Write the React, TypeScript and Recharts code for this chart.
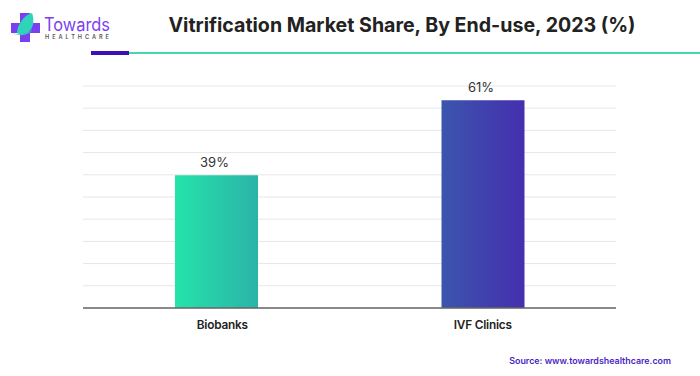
import React from "react";
import { BarChart, Bar, XAxis, YAxis, CartesianGrid, LabelList, Cell, ReferenceLine } from "recharts";

const categories = ["Biobanks", "IVF Clinics"];
const shares = [39, 61];
const gridTicks = [0, 6.52, 13.04, 19.56, 26.08, 32.6, 39.12, 45.64, 52.16, 58.68, 65.2];
const data = categories.map((name, i) => ({ name, share: shares[i] }));
const fills = ["url(#barA)", "url(#barB)"];
const font = "Inter, sans-serif";

function Logo() {
  return (
    <svg width={120} height={50} style={{ position: "absolute", left: 0, top: 0 }}>
      <path d="M20 13h10v10h10v10H30v9H20v-9H11V23h9z" fill="#7b3ff2" />
      <path d="M32 13c3 8 1 17-5 20-5 2-9 1-10 0 0-8 7-18 15-20z" fill="#2fd3b8" />
      <path d="M12 33c6 2 14 2 20-3-3 5-12 7-20 3z" fill="#2fd3b8" />
      <text x={44} y={30.5} fontFamily={font} fontSize={18} fontWeight={400} textLength={66} lengthAdjust="spacingAndGlyphs" fill="#7b3ff2">Towards</text>
      <text x={45} y={39} fontFamily={font} fontSize={5.6} fontWeight={600} textLength={64} fill="#555">HEALTHCARE</text>
    </svg>
  );
}

function Tick(props: any) {
  const { x, y, payload } = props;
  const shift = payload.value === "Biobanks" ? 6 : 0;
  return (
    <text x={x + shift} y={y + 13} textAnchor="middle" fontFamily={font} fontSize={11.8} fontWeight={600} letterSpacing={-0.2} fill="#222">
      {payload.value}
    </text>
  );
}

export default function App() {
  return (
    <div style={{ position: "absolute", left: 0, top: 0, width: 700, height: 376, background: "#fff", overflow: "hidden" }}>
      <Logo />
      <div style={{ position: "absolute", left: 127, width: 550, top: 11, textAlign: "center", fontFamily: font, fontWeight: 700, fontSize: 19.6, lineHeight: "28px", color: "#222", whiteSpace: "nowrap" }}>
        Vitrification Market Share, By End-use, 2023 (%)
      </div>
      <div style={{ position: "absolute", left: 129, top: 52, width: 571, height: 2, background: "#45d6b0" }} />
      <div style={{ position: "absolute", left: 91, top: 51, width: 38, height: 4, background: "#3d12b5" }} />
      <BarChart
        width={700}
        height={376}
        data={data}
        margin={{ top: 86, right: 84, bottom: 38, left: 83 }}
        style={{ position: "absolute", left: 0, top: 0 }}
      >
        <defs>
          <linearGradient id="barA" x1="0" y1="0" x2="1" y2="0">
            <stop offset="0%" stopColor="#25e3ab" />
            <stop offset="100%" stopColor="#2bb3a8" />
          </linearGradient>
          <linearGradient id="barB" x1="0" y1="0" x2="1" y2="0">
            <stop offset="0%" stopColor="#3b55ad" />
            <stop offset="100%" stopColor="#452fae" />
          </linearGradient>
        </defs>
        <CartesianGrid vertical={false} stroke="#e6e6e6" strokeWidth={1} />
        <YAxis hide type="number" domain={[0, 65.2]} ticks={gridTicks} interval={0} allowDataOverflow />
        <XAxis dataKey="name" tickLine={false} axisLine={false} tick={<Tick />} />
        <Bar dataKey="share" barSize={83} isAnimationActive={false}>
          {data.map((d, i) => (
            <Cell key={d.name} fill={fills[i]} />
          ))}
          <LabelList
            dataKey="share"
            position="top"
            offset={8}
            dx={-2}
            formatter={(v: number) => `${v}%`}
            style={{ fontFamily: font, fontSize: 13, fill: "#333" }}
          />
        </Bar>
        <ReferenceLine y={0} stroke="#666" strokeWidth={1.3} />
      </BarChart>
      <div style={{ position: "absolute", right: 29, top: 355, fontFamily: font, fontWeight: 600, fontSize: 8.9, color: "#4a1fc4", whiteSpace: "nowrap" }}>
        Source: www.towardshealthcare.com
      </div>
    </div>
  );
}
